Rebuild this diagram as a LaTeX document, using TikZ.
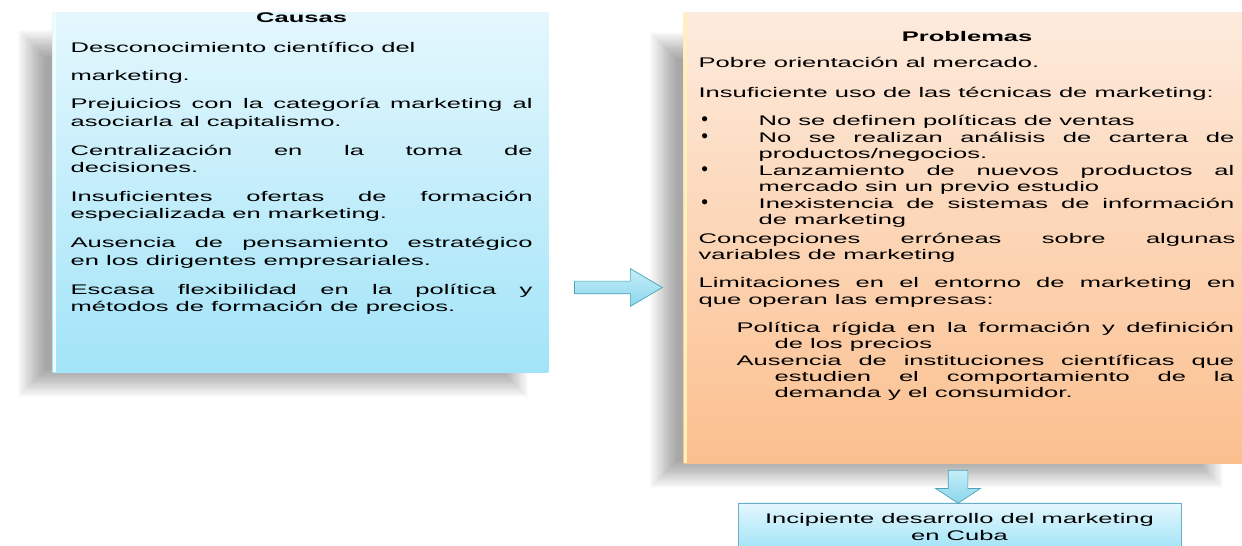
\documentclass[tikz,border=0pt]{standalone}
\usepackage{fontspec}
\setmainfont{Liberation Sans}
\newfontfamily\boxfont{Liberation Sans}
\usetikzlibrary{shapes.arrows}

\definecolor{causaTop}{HTML}{E4F7FD}
\definecolor{causaBot}{HTML}{A2E4F8}
\definecolor{causaEdge}{HTML}{F2FCFF}
\definecolor{probTop}{HTML}{FDEBDD}
\definecolor{probBot}{HTML}{FBBF8E}
\definecolor{probEdge}{HTML}{FFF1B8}
\definecolor{cubaBorde}{HTML}{6AB0C4}
\definecolor{flechaBorde}{HTML}{4BA3B5}
\definecolor{flechaTop}{HTML}{C4EEF8}
\definecolor{flechaBot}{HTML}{8CD6EC}

\tikzset{
  caja/.style={inner sep=0pt, draw=none},
  sombra/.style={black, opacity=0.015},
  flecha/.style={single arrow, draw=flechaBorde, thin,
    top color=flechaTop, bottom color=flechaBot},
  % wide Arial-like lettering of the boxes
  txt/.style={inner sep=0pt, align=left, anchor=base west, xscale=1.83,
    font=\boxfont\fontsize{7.94}{9.92}\selectfont,
    execute at begin node={\spaceskip=0pt\xspaceskip=0pt\relax}}
}

% justified line of a given width
\newcommand\jl[2][\linewidth]{\makebox[#1][s]{\spaceskip=0pt\xspaceskip=0pt\relax#2}}
\newcommand\bul{\makebox[0.656cm][l]{\hspace*{0.03cm}\scalebox{0.75}[1.35]{\textbullet}}}

\begin{document}
\begin{tikzpicture}[x=0.02cm, y=-0.02cm]
  \useasboundingbox[fill=white] (0,0) rectangle (1242,546);

  %% ── Boxes (outlines only, filled after the shadows) ─────
  \node[caja, minimum width=9.9cm, minimum height=7.18cm] (causas) at (300.5,192.5) {};
  \node[caja, minimum width=11.28cm, minimum height=9cm] (problemas) at (966,238) {};

  %% soft shadows, left and below
  \foreach \i in {0,...,23}{
    \fill[sombra]
      ([shift={(-35+1.2*\i,17+1.2*\i)}]causas.north west) rectangle
      ([shift={(-20-1.2*\i,25-1.2*\i)}]causas.south east);
    \fill[sombra]
      ([shift={(-34+1.2*\i,19+1.2*\i)}]problemas.north west) rectangle
      ([shift={(-25-1.2*\i,25-1.2*\i)}]problemas.south east);
  }
  \fill[top color=causaTop, bottom color=causaBot]
    (causas.north west) rectangle (causas.south east);
  \fill[top color=probTop, bottom color=probBot]
    (problemas.north west) rectangle (problemas.south east);

  \node[draw=cubaBorde, thin, inner sep=0pt, top color=causaTop, bottom color=causaBot,
        minimum width=8.86cm, minimum height=0.92cm] (cuba) at (959.5,526) {};

  %% light left edges
  \draw[causaEdge, line width=0.06cm]
    ([xshift=0.03cm]causas.north west) -- ([xshift=0.03cm]causas.south west);
  \draw[probEdge, line width=0.06cm]
    ([xshift=0.03cm]problemas.north west) -- ([xshift=0.03cm]problemas.south west);

  %% ── Arrows ──────────────────────────────────────────────
  \node[flecha, inner sep=0.12cm, minimum height=1.76cm, minimum width=0.52cm,
        single arrow tip angle=61] (flechaDer) at (613,287.5) {};
  \node[flecha, shape border rotate=270, inner sep=0.19cm, minimum height=0.66cm,
        minimum width=0.78cm, single arrow tip angle=113] (flechaAbj) at (958,483.5) {};

  %% ── Causas ──────────────────────────────────────────────
  \node[txt, text width=5.049cm] (causasTxt) at (70,23) {%
    \makebox[\linewidth]{\bfseries Causas}\\[0.25cm]
    Desconocimiento científico del\\[0.21cm]
    marketing.\\[0.21cm]
    \jl{Prejuicios con la categoría marketing al}\\
    asociarla al capitalismo.\\[0.23cm]
    \jl{Centralización en la toma de}\\
    decisiones.\\[0.23cm]
    \jl{Insuficientes ofertas de formación}\\
    especializada en marketing.\\[0.23cm]
    \jl{Ausencia de pensamiento estratégico}\\
    en los dirigentes empresariales.\\[0.23cm]
    \jl{Escasa flexibilidad en la política y}\\
    métodos de formación de precios.};

  %% ── Problemas ───────────────────────────────────────────
  \node[txt, text width=5.869cm, font=\boxfont\fontsize{7.94}{9.36}\selectfont]
    (problemasTxt) at (698,42) {%
    \makebox[\linewidth]{\bfseries Problemas}\\[0.19cm]
    Pobre orientación al mercado.\\[0.27cm]
    Insuficiente uso de las técnicas de marketing:\\[0.23cm]
    \bul No se definen políticas de ventas\\
    \bul\jl[5.2cm]{No se realizan análisis de cartera de}\\
    \hspace*{0.656cm}productos/negocios.\\
    \bul\jl[5.2cm]{Lanzamiento de nuevos productos al}\\
    \hspace*{0.656cm}mercado sin un previo estudio\\
    \bul\jl[5.2cm]{Inexistencia de sistemas de información}\\
    \hspace*{0.656cm}de marketing\\[0.05cm]
    \jl{Concepciones erróneas sobre algunas}\\
    variables de marketing\\[0.23cm]
    \jl{Limitaciones en el entorno de marketing en}\\
    que operan las empresas:\\[0.23cm]
    \hspace*{0.415cm}\jl[5.44cm]{Política rígida en la formación y definición}\\
    \hspace*{0.831cm}de los precios\\
    \hspace*{0.415cm}\jl[5.44cm]{Ausencia de instituciones científicas que}\\
    \hspace*{0.831cm}\jl[5.02cm]{estudien el comportamiento de la}\\
    \hspace*{0.831cm}demanda y el consumidor.};

  %% ── Result ──────────────────────────────────────────────
  \node[txt, text width=4.84cm, anchor=base, font=\boxfont\fontsize{7.94}{9.36}\selectfont]
    (cubaTxt) at (959.5,524) {%
    \makebox[\linewidth]{Incipiente desarrollo del marketing}\\
    \makebox[\linewidth]{en Cuba}};
\end{tikzpicture}
\end{document}
